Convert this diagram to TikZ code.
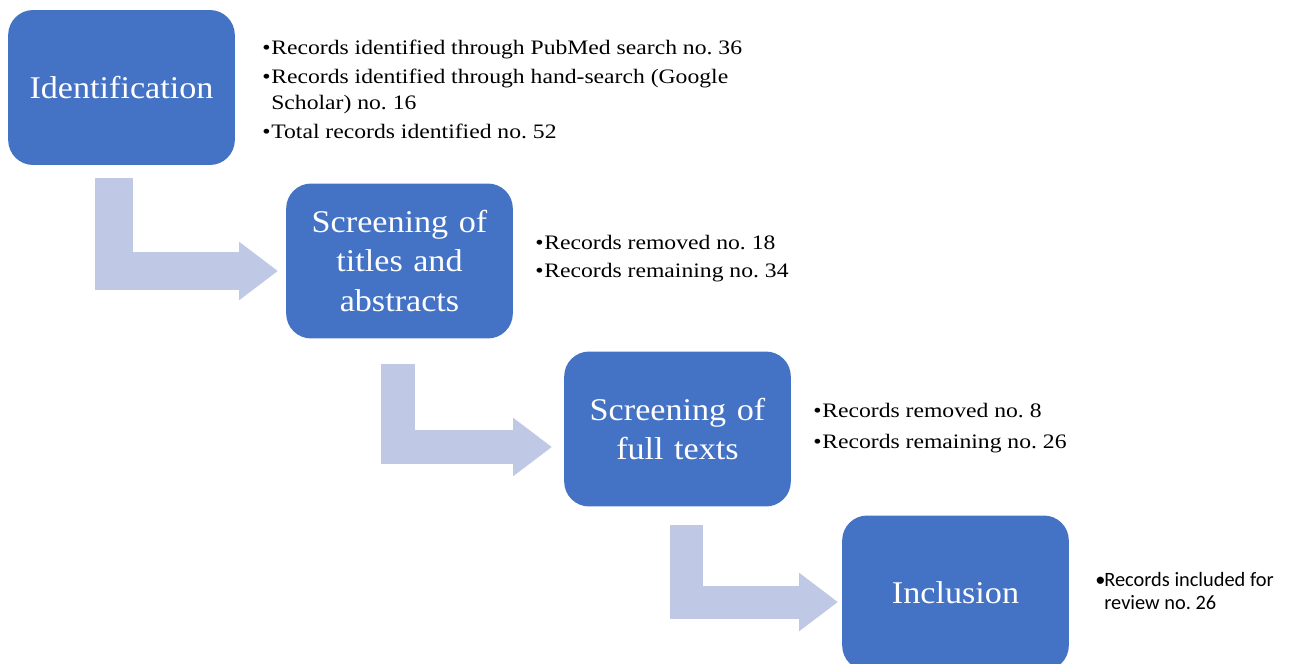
\documentclass[tikz,border=0pt]{standalone}
\usepackage{fontspec}
\setmainfont{Liberation Serif}[FakeStretch=1.08]
\newfontfamily\listfont{Liberation Serif}[FakeStretch=1.15]
\newfontfamily\calibrifont{Carlito}
\usetikzlibrary{arrows.meta}
\definecolor{boxblue}{RGB}{68,114,196}
\definecolor{arrowblue}{RGB}{191,201,229}
\newcommand{\bitem}[1]{\makebox[0.18cm][l]{\textbullet}#1}
\newcommand{\bcont}[1]{\hspace*{0.18cm}#1}
\frenchspacing
\begin{document}
\begin{tikzpicture}[x=0.02cm,y=-0.02cm,
  stagebox/.style={rectangle,rounded corners=0.5cm,fill=boxblue,text=white,
    minimum width=4.5cm,minimum height=3.1cm,text width=4.3cm,align=center,
    font=\fontsize{18}{22.7}\selectfont},
  listtext/.style={anchor=west,inner sep=0pt,align=left,
    font=\listfont\fontsize{11.7}{14.7}\selectfont},
  flowarrow/.style={draw=arrowblue,line width=#1,line join=miter,
    -{Triangle[width=1.12cm,length=0.78cm]}},
  flowarrow/.default=0.72cm]
\useasboundingbox (0,0) rectangle (1298,663);

\node at (121.5, 87.5) [stagebox] (ident) {Identification};
\node at (399.5,261)   [stagebox] (titles) {Screening of\\ titles and\\ abstracts};
\node at (677.5,429)   [stagebox] (fulltext) {Screening of\\ full texts};
\node at (955.5,593)   [stagebox] (incl) {Inclusion};

\node at (262, 89.5) [listtext] (identlist) {\bitem{Records identified through PubMed search no. 36}\\[1.7pt]
                                             \bitem{Records identified through hand-search (Google}\\
                                             \bcont{Scholar) no. 16}\\[1.7pt]
                                             \bitem{Total records identified no. 52}};
\node at (535,258.5) [listtext] (titleslist) {\bitem{Records removed no. 18}\\[1.7pt]
                                              \bitem{Records remaining no. 34}};
\node at (813,428)   [listtext] (fulltextlist) {\bitem{Records removed no. 8}\\[3.4pt]
                                                \bitem{Records remaining no. 26}};
\node at (1095,591)  [listtext,font=\calibrifont\fontsize{11.6}{12.6}\selectfont] (incllist)
                     {\makebox[0.18cm][l]{\textbullet}Records included for\\
                      \bcont{review no. 26}};

\coordinate (a1s) at (114,178);  \coordinate (a1e) at (278,271);
\coordinate (a2s) at (398,364);  \coordinate (a2e) at (552,447);
\coordinate (a3s) at (686,525);  \coordinate (a3e) at (838,602);

\draw[flowarrow=0.76cm] (a1s) |- (a1e);
\draw[flowarrow=0.68cm] (a2s) |- (a2e);
\draw[flowarrow=0.66cm] (a3s) |- (a3e);
\end{tikzpicture}
\end{document}
